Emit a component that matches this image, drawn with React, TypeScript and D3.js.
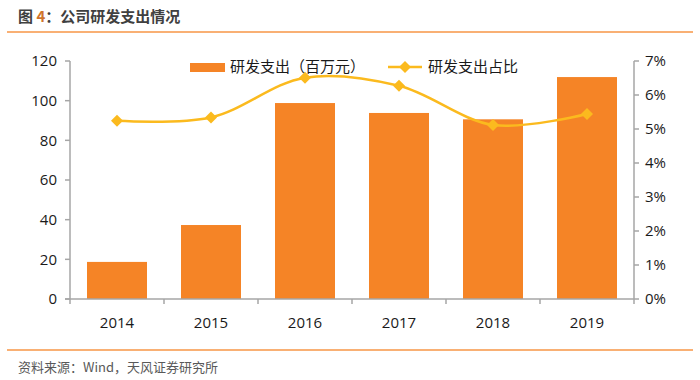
import React from "react";
import * as d3 from "d3";

const years = ["2014", "2015", "2016", "2017", "2018", "2019"];
const rdSpend = [18.7, 37.3, 98.8, 93.8, 90.6, 111.9];
const rdRatio = [5.24, 5.34, 6.51, 6.27, 5.12, 5.44];
const leftTicks = [0, 20, 40, 60, 80, 100, 120];
const rightTicks = [0, 1, 2, 3, 4, 5, 6, 7];

const W = 700, H = 380;
const left = 70, right = 634, top = 61, bottom = 299;
const BAR = "#F58426";
const LINE = "#FBBA1E";
const AXIS = "#A6A6A6";
const FONT = "'Noto Sans CJK SC', 'Noto Sans', sans-serif";
const NUMFONT = "'Open Sans', 'Noto Sans', sans-serif";

export default function App() {
  const xb = d3.scaleBand().domain(years).range([left, right]);
  const yL = d3.scaleLinear().domain([0, 120]).range([bottom, top]);
  const yR = d3.scaleLinear().domain([0, 7]).range([bottom, top]);
  const cx = (d: string) => (xb(d) as number) + xb.bandwidth() / 2;
  const line = d3.line<number>().x((_, i) => cx(years[i])).y((d) => yR(d)).curve(d3.curveCatmullRom.alpha(0.5));
  const diamond = (px: number, py: number, r = 6) => `M${px},${py - r}L${px + r},${py}L${px},${py + r}L${px - r},${py}Z`;
  const bw = 60;

  return (
    <svg width={W} height={H} style={{ position: "absolute", left: 0, top: 0, background: "#fff" }} fontFamily={FONT}>
      <text x={18} y={22} fontSize={15} fontWeight="bold" fill="#404040">
        图 <tspan fill="#D0742C">4</tspan>：公司研发支出情况
      </text>
      <line x1={7} x2={693} y1={32} y2={32} stroke="#F79646" strokeWidth={1.5} />

      {years.map((yr, i) => (
        <rect key={yr} x={cx(yr) - bw / 2} y={yL(rdSpend[i])} width={bw} height={bottom - yL(rdSpend[i])} fill={BAR} />
      ))}

      <path d={line(rdRatio) || ""} fill="none" stroke={LINE} strokeWidth={2.5} />
      {rdRatio.map((v, i) => (
        <path key={i} d={diamond(cx(years[i]), yR(v))} fill={LINE} />
      ))}

      {/* left axis */}
      <line x1={left} x2={left} y1={top} y2={bottom} stroke={AXIS} strokeWidth={1.5} />
      {leftTicks.map((t) => (
        <g key={t}>
          <line x1={left - 5} x2={left} y1={yL(t)} y2={yL(t)} stroke={AXIS} strokeWidth={1.5} />
          <text x={57} y={yL(t)} dy="0.35em" textAnchor="end" fontSize={15} fontFamily={NUMFONT} fill="#1a1a1a">{t}</text>
        </g>
      ))}
      {/* right axis */}
      <line x1={right} x2={right} y1={top} y2={bottom} stroke={AXIS} strokeWidth={1.5} />
      {rightTicks.map((t) => (
        <g key={t}>
          <line x1={right} x2={right + 5} y1={yR(t)} y2={yR(t)} stroke={AXIS} strokeWidth={1.5} />
          <text x={645} y={yR(t)} dy="0.35em" textAnchor="start" fontSize={15} fontFamily={NUMFONT} fill="#1a1a1a">{t}%</text>
        </g>
      ))}
      {/* x axis */}
      <line x1={left - 5} x2={right} y1={bottom} y2={bottom} stroke={AXIS} strokeWidth={1.5} />
      {years.map((yr) => (
        <g key={yr}>
          <line x1={xb(yr) as number} x2={xb(yr) as number} y1={bottom} y2={bottom + 5} stroke={AXIS} strokeWidth={1.5} />
          <text x={cx(yr)} y={323} dy="0.35em" textAnchor="middle" fontSize={15} fontFamily={NUMFONT} fill="#1a1a1a">{yr}</text>
        </g>
      ))}
      <line x1={right} x2={right} y1={bottom} y2={bottom + 5} stroke={AXIS} strokeWidth={1.5} />

      {/* legend */}
      <rect x={190} y={63} width={35} height={9} fill={BAR} />
      <text x={230} y={67} dy="0.35em" fontSize={15} fill="#1a1a1a">研发支出（百万元）</text>
      <line x1={388} x2={422} y1={67} y2={67} stroke={LINE} strokeWidth={2.5} />
      <path d={diamond(405, 67)} fill={LINE} />
      <text x={428} y={67} dy="0.35em" fontSize={15} fill="#1a1a1a">研发支出占比</text>

      <line x1={7} x2={693} y1={350} y2={350} stroke="#F79646" strokeWidth={1.5} />
      <text x={18} y={367} dy="0.35em" fontSize={13} fill="#595959">资料来源：Wind，天风证券研究所</text>
    </svg>
  );
}
